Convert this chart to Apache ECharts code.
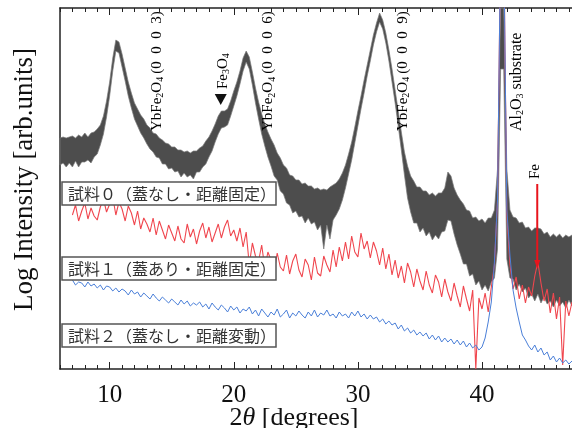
<!DOCTYPE html>
<html>
<head>
<meta charset="utf-8">
<script src="https://cdn.jsdelivr.net/npm/echarts@6.0.0/dist/echarts.min.js"></script>
<style>
  html, body { margin: 0; padding: 0; background: #fff; }
  #chart { width: 572px; height: 428px; }
</style>
</head>
<body>
<div id="chart"></div>
<script>
// sampling of the scans (2theta, degrees)
var thetaStep = 0.25;
var grayStart = 6;     // sample 0 scan starts here
var sampleStart = 7;   // sample 1 / 2 scans start here
var thetaMin = 6, thetaMax = 47.25;
var intensityMax = 361;
var majorTicks = [10, 20, 30, 40];

// sample 0 : noisy band, upper / lower envelope (log intensity, arb.)
var grayHigh = [
  231, 232, 231, 232, 233, 231, 234, 232,
  236, 232, 236, 237, 240, 244, 253, 268,
  287, 311, 329, 327, 315, 301, 287, 276,
  266, 260, 254, 250, 244, 241, 236, 235,
  231, 229, 226, 225, 222, 222, 219, 219,
  217, 218, 216, 218, 218, 221, 223, 228,
  232, 238, 245, 253, 258, 258, 260, 268,
  278, 287, 298, 311, 318, 312, 297, 281,
  267, 255, 245, 237, 230, 224, 216, 211,
  204, 201, 194, 193, 189, 189, 185, 186,
  183, 183, 180, 181, 179, 180, 179, 182,
  184, 186, 190, 196, 204, 215, 227, 242,
  258, 273, 289, 304, 319, 334, 346, 356,
  349, 336, 319, 300, 279, 258, 237, 217,
  203, 193, 188, 182, 182, 178, 178, 174,
  176, 173, 176, 176, 181, 197, 193, 181,
  174, 169, 165, 159, 158, 151, 152, 148,
  150, 146, 151, 151, 159, 200, 420, 420,
  200, 159, 152, 151, 146, 147, 141, 142,
  138, 141, 141, 140, 135, 137, 132, 135,
  132, 135, 131, 134, 132, 134
];
var grayLow = [
  204, 206, 202, 206, 202, 208, 202, 207,
  207, 209, 206, 212, 215, 224, 235, 252,
  273, 298, 318, 316, 302, 288, 273, 261,
  250, 243, 236, 231, 225, 220, 217, 212,
  211, 205, 205, 200, 201, 197, 198, 192,
  196, 192, 194, 190, 197, 197, 202, 205,
  212, 218, 227, 235, 241, 242, 244, 253,
  263, 273, 285, 298, 307, 300, 284, 266,
  250, 235, 223, 212, 203, 193, 189, 178,
  175, 166, 164, 156, 158, 152, 153, 146,
  151, 145, 147, 139, 144, 120, 144, 130,
  149, 154, 160, 169, 181, 195, 209, 226,
  243, 260, 276, 293, 308, 324, 337, 347,
  340, 326, 308, 287, 266, 243, 219, 194,
  171, 157, 146, 146, 137, 141, 133, 137,
  129, 134, 130, 137, 138, 149, 148, 135,
  124, 115, 105, 105, 93, 95, 84, 88,
  79, 84, 78, 87, 91, 120, 300, 300,
  110, 91, 90, 79, 85, 77, 81, 71,
  75, 68, 75, 66, 72, 65, 68, 62,
  69, 63, 67, 61, 69, 63
];

// sample 1 (red)
var redValues = [
  154, 164, 148, 158, 166, 150, 161, 153,
  149, 162, 170, 157, 165, 172, 154, 167,
  160, 148, 163, 156, 144, 158, 140, 151,
  145, 137, 151, 134, 148, 139, 130, 144,
  136, 128, 143, 130, 126, 145, 132, 140,
  125, 138, 146, 131, 142, 127, 136, 145,
  131, 142, 149, 133, 139, 128, 141, 122,
  137, 104, 126, 113, 108, 124, 101, 117,
  109, 97, 116, 102, 98, 114, 95, 108,
  115, 99, 92, 110, 104, 89, 112, 96,
  93, 113, 104, 97, 119, 102, 122, 108,
  127, 110, 133, 117, 112, 136, 120, 128,
  111, 127, 118, 104, 121, 100, 115, 94,
  109, 91, 103, 86, 106, 97, 82, 100,
  88, 79, 98, 84, 76, 94, 87, 72,
  90, 77, 68, 86, 73, 62, 83, 70,
  58, 79, 0, 71, 60, 76, 57, 82,
  104, 169, 429, 429, 154, 104, 80, 92,
  70, 84, 66, 82, 73, 93, 107, 86,
  68, 80, 56, 76, 50, 72, 4, 68,
  53, 67
];

// sample 2 (blue)
var blueValues = [
  89, 84, 87, 86, 82, 87, 83, 85,
  81, 84, 79, 83, 82, 78, 81, 77,
  80, 78, 74, 79, 75, 77, 72, 76,
  73, 70, 75, 71, 68, 72, 69, 66,
  70, 67, 64, 69, 65, 68, 63, 66,
  64, 67, 62, 65, 60, 66, 62, 59,
  64, 61, 57, 63, 59, 62, 56, 60,
  58, 62, 55, 59, 53, 60, 56, 52,
  57, 54, 60, 52, 55, 59, 51, 56,
  53, 58, 54, 51, 57, 53, 59, 52,
  56, 54, 59, 53, 55, 51, 57, 53,
  55, 51, 57, 53, 58, 52, 55, 50,
  54, 50, 52, 47, 50, 45, 48, 44,
  46, 40, 44, 38, 41, 36, 39, 34,
  37, 33, 36, 30, 34, 29, 33, 27,
  31, 27, 30, 25, 29, 24, 28, 22,
  26, 21, 24, 19, 22, 31, 47, 67,
  107, 169, 429, 429, 159, 114, 79, 61,
  47, 34, 29, 23, 19, 24, 17, 21,
  14, 17, 9, 13, 7, 11, 6, 9,
  5, 8
];

var sampleNames = [
  '試料０（蓋なし・距離固定）',
  '試料１（蓋あり・距離固定）',
  '試料２（蓋なし・距離変動）'
];

function pairs(start, values) {
  return values.map(function (v, i) { return [start + i * thetaStep, v]; });
}

var serif = 'Liberation Serif';
var chart = echarts.init(document.getElementById('chart'));

var frameLine = { onZero: false, lineStyle: { color: '#222', width: 1.5 } };

// sample 0 is drawn as a filled band between its envelopes
function renderBand(params, api) {
  if (params.dataIndex !== 0) return;
  var upper = grayHigh.map(function (v, i) {
    return api.coord([grayStart + i * thetaStep, Math.min(v, intensityMax)]);
  });
  var lower = grayLow.map(function (v, i) {
    return api.coord([grayStart + i * thetaStep, Math.min(v, intensityMax)]);
  }).reverse();
  return {
    type: 'polygon',
    shape: { points: upper.concat(lower) },
    style: { fill: '#4d4d4d', stroke: '#7a7a7a', lineWidth: 0.7 }
  };
}

var option = {
  animation: false,
  backgroundColor: '#fff',
  grid: { left: 60, right: 0, top: 8, bottom: 59, outerBoundsMode: 'none', containLabel: false },
  xAxis: [
    {
      type: 'value', min: thetaMin, max: thetaMax, interval: 1, position: 'bottom',
      axisLine: frameLine,
      axisTick: { inside: true, length: 4, lineStyle: { color: '#222' } },
      axisLabel: {
        margin: 14, fontFamily: serif, fontSize: 25, color: '#111',
        formatter: function (v) { return v % 10 === 0 ? String(v) : ''; }
      },
      splitLine: { show: false },
      name: '{n|2}{i|θ}{n| [degrees]}',
      nameLocation: 'middle', nameGap: 36, nameMoveOverlap: false,
      nameTextStyle: {
        padding: [0, 44, 0, 0],
        rich: {
          n: { fontFamily: serif, fontSize: 26, color: '#111' },
          i: { fontFamily: serif, fontSize: 26, color: '#111', fontStyle: 'italic' }
        }
      }
    },
    {
      type: 'value', min: thetaMin, max: thetaMax, position: 'bottom',
      axisLine: { show: false, onZero: false },
      axisTick: { inside: true, length: 7, customValues: majorTicks, lineStyle: { color: '#222' } },
      axisLabel: { show: false }, splitLine: { show: false }
    },
    {
      type: 'value', min: thetaMin, max: thetaMax, interval: 1, position: 'top',
      axisLine: frameLine,
      axisTick: { inside: true, length: 4, lineStyle: { color: '#222' } },
      axisLabel: { show: false }, splitLine: { show: false }
    },
    {
      type: 'value', min: thetaMin, max: thetaMax, position: 'top',
      axisLine: { show: false, onZero: false },
      axisTick: { inside: true, length: 7, customValues: majorTicks, lineStyle: { color: '#222' } },
      axisLabel: { show: false }, splitLine: { show: false }
    }
  ],
  yAxis: {
    type: 'value', min: 0, max: intensityMax,
    axisLine: { show: true, onZero: false, lineStyle: { color: '#222', width: 1.5 } },
    axisTick: { show: false }, axisLabel: { show: false }, splitLine: { show: false },
    name: 'Log Intensity [arb.units]',
    nameLocation: 'middle', nameGap: 22, nameMoveOverlap: false,
    nameTextStyle: { fontFamily: serif, fontSize: 27, color: '#111', padding: [0, 0, 0, 18] }
  },
  series: [
    {
      name: 'sample0', type: 'custom', z: 2,
      data: pairs(grayStart, grayHigh),
      encode: { x: 0, y: 1 },
      renderItem: renderBand
    },
    {
      name: 'sample1', type: 'line', z: 3,
      data: pairs(sampleStart, redValues),
      showSymbol: false,
      lineStyle: { color: '#f0464e', width: 1.1 }
    },
    {
      name: 'sample2', type: 'line', z: 4,
      data: pairs(sampleStart, blueValues),
      showSymbol: false,
      lineStyle: { color: '#4a7fd8', width: 1 }
    }
  ]
};

chart.setOption(option);

// annotations (positions in degrees, vertical offsets in px)
function px(theta) { return chart.convertToPixel({ xAxisIndex: 0 }, theta); }

var sub = { fontFamily: serif, fontSize: 10, color: '#222', verticalAlign: 'bottom', lineHeight: 10 };
function labelStyle(text, size) {
  return {
    text: text, align: 'left', verticalAlign: 'middle',
    rich: {
      a: { fontFamily: serif, fontSize: size, color: '#222', lineHeight: 18 },
      s: sub
    }
  };
}
var sp = '\u2002';
var hkl = function (n) { return '{a|\u2009(0' + sp + '0' + sp + '0' + sp + n + ')}'; };
var peakLabels = [
  { theta: 13.8, bottom: 131, text: '{a|YbFe}{s|2}{a|O}{s|4}' + hkl(3), size: 15 },
  { theta: 22.8, bottom: 131, text: '{a|YbFe}{s|2}{a|O}{s|4}' + hkl(6), size: 15 },
  { theta: 33.6, bottom: 131, text: '{a|YbFe}{s|2}{a|O}{s|4}' + hkl(9), size: 15 },
  { theta: 19.1, bottom: 89, text: '{a|Fe}{s|3}{a|O}{s|4}', size: 15 },
  { theta: 42.8, bottom: 131, text: '{a|Al}{s|2}{a|O}{s|3}{a| substrate}', size: 16 },
  { theta: 44.25, bottom: 179, text: '{a|Fe}', size: 15 }
];

var graphic = peakLabels.map(function (p) {
  return {
    type: 'text', x: px(p.theta), y: p.bottom, rotation: Math.PI / 2, z: 20,
    style: labelStyle(p.text, p.size)
  };
});

// Fe3O4 marker
var triX = px(18.95);
graphic.push({
  type: 'polygon', z: 20,
  shape: { points: [[triX - 6, 94], [triX + 6, 94], [triX, 105]] },
  style: { fill: '#111' }
});

// Fe arrow
var feX = px(44.45);
graphic.push({
  type: 'line', z: 20,
  shape: { x1: feX, y1: 184, x2: feX, y2: 262 },
  style: { stroke: '#e8141c', lineWidth: 2 }
});
graphic.push({
  type: 'polygon', z: 20,
  shape: { points: [[feX - 3, 260], [feX + 3, 260], [feX, 269]] },
  style: { fill: '#e8141c' }
});

// sample boxes
var boxTops = [182, 257, 324];
sampleNames.forEach(function (name, i) {
  graphic.push({
    type: 'rect', z: 30,
    shape: { x: 62, y: boxTops[i], width: 214, height: 23 },
    style: { fill: '#fff', stroke: '#555', lineWidth: 1.5 }
  });
  graphic.push({
    type: 'text', z: 31, x: 68, y: boxTops[i] + 11.5,
    style: {
      text: name, fontFamily: 'Noto Sans CJK JP', fontSize: 16, fill: '#333',
      align: 'left', verticalAlign: 'middle'
    }
  });
});

chart.setOption({ graphic: graphic });
</script>
</body>
</html>
